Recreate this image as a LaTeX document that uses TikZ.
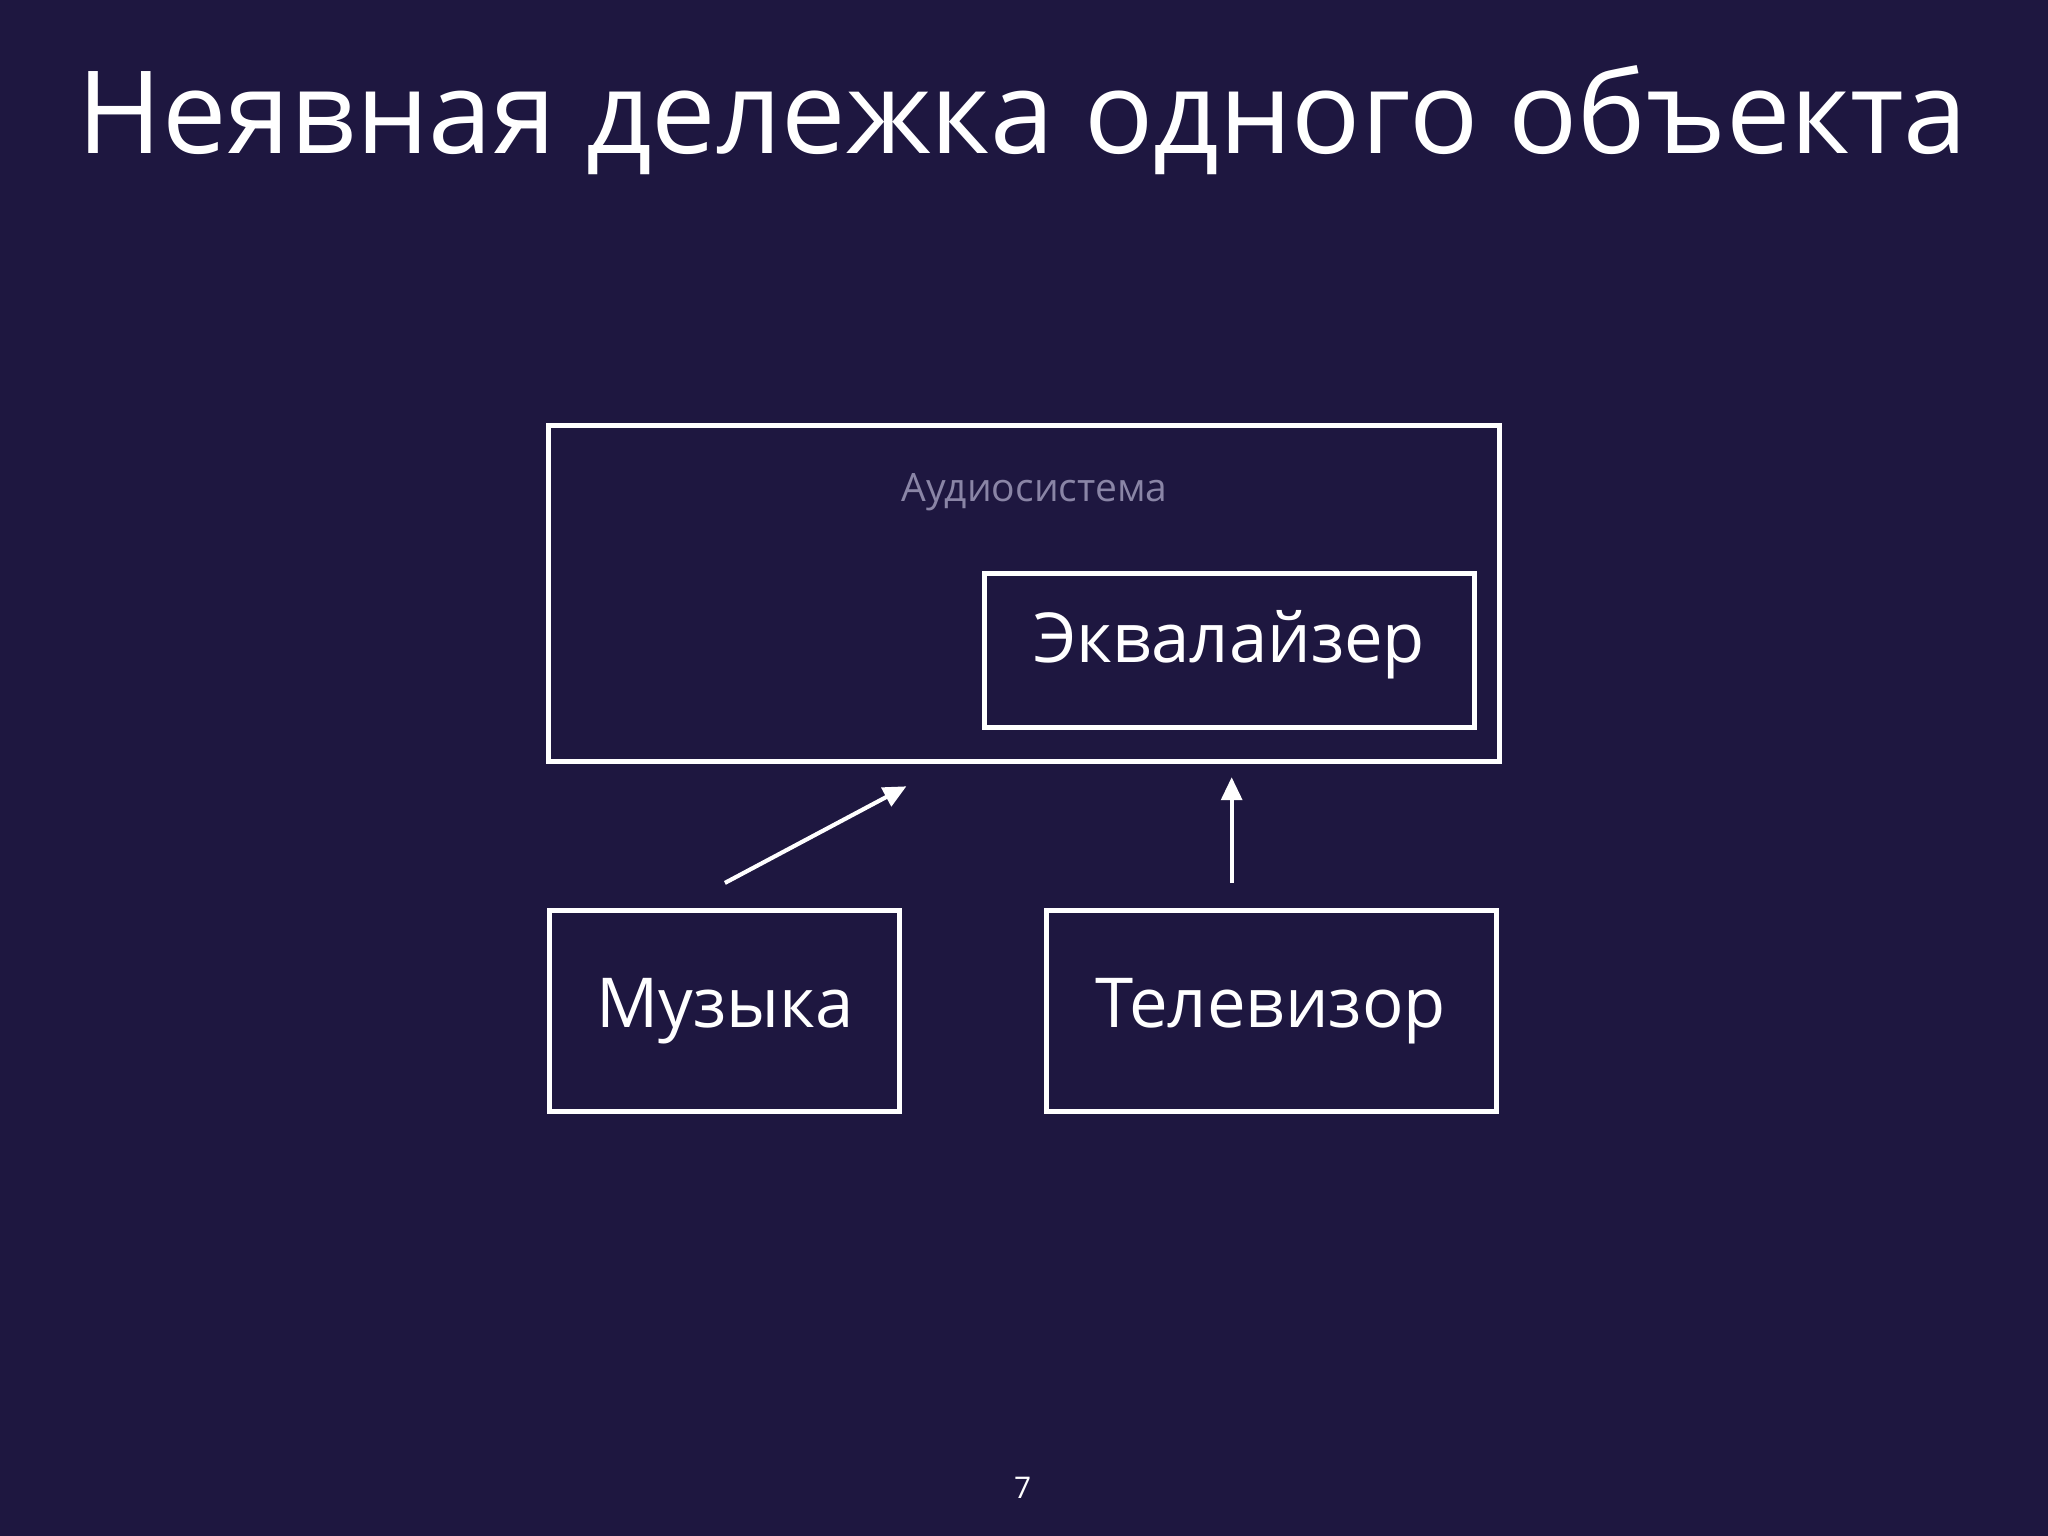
\documentclass[tikz,border=0pt]{standalone}
\usepackage{fontspec}
\setmainfont{Open Sans}
\usetikzlibrary{arrows.meta}
\definecolor{bg}{HTML}{1E1740}
\definecolor{lbl}{HTML}{8A85A6}
\begin{document}
\begin{tikzpicture}[x=0.01cm,y=-0.01cm,
  box/.style={draw=white,line width=1.1pt},
  conn/.style={draw=white,line width=0.9pt,-{Triangle[length=5pt,width=4.5pt]}}]
\fill[bg] (0,0) rectangle (1568,1176);
\useasboundingbox (0,0) rectangle (1568,1176);
\node[white,font=\fontsize{25}{30}\selectfont] (title) at (783,92) {Неявная дележка одного объекта};
\draw[box] (420,326) rectangle (1148,583);
\coordinate (outer) at (784,454);
\node[lbl,font=\fontsize{8.5}{10}\selectfont] (aud) at (792,377) {Аудиосистема};
\draw[box] (754,439) rectangle (1129,557);
\node[white,font=\fontsize{15}{18}\selectfont] (eq) at (941,494) {Эквалайзер};
\draw[box] (421,697) rectangle (689,851);
\node[white,font=\fontsize{15}{18}\selectfont] (mus) at (555,774) {Музыка};
\draw[box] (801,697) rectangle (1146,851);
\node[white,font=\fontsize{15}{18}\selectfont] (tv) at (973,774) {Телевизор};
\coordinate (a1s) at (555,676); \coordinate (a1e) at (694,602);
\coordinate (a2s) at (943,676); \coordinate (a2e) at (943,595);
\draw[conn] (a1s) -- (a1e);
\draw[conn] (a2s) -- (a2e);
\node[white,font=\fontsize{6.5}{8}\selectfont] (pg) at (783,1139) {7};
\end{tikzpicture}
\end{document}
